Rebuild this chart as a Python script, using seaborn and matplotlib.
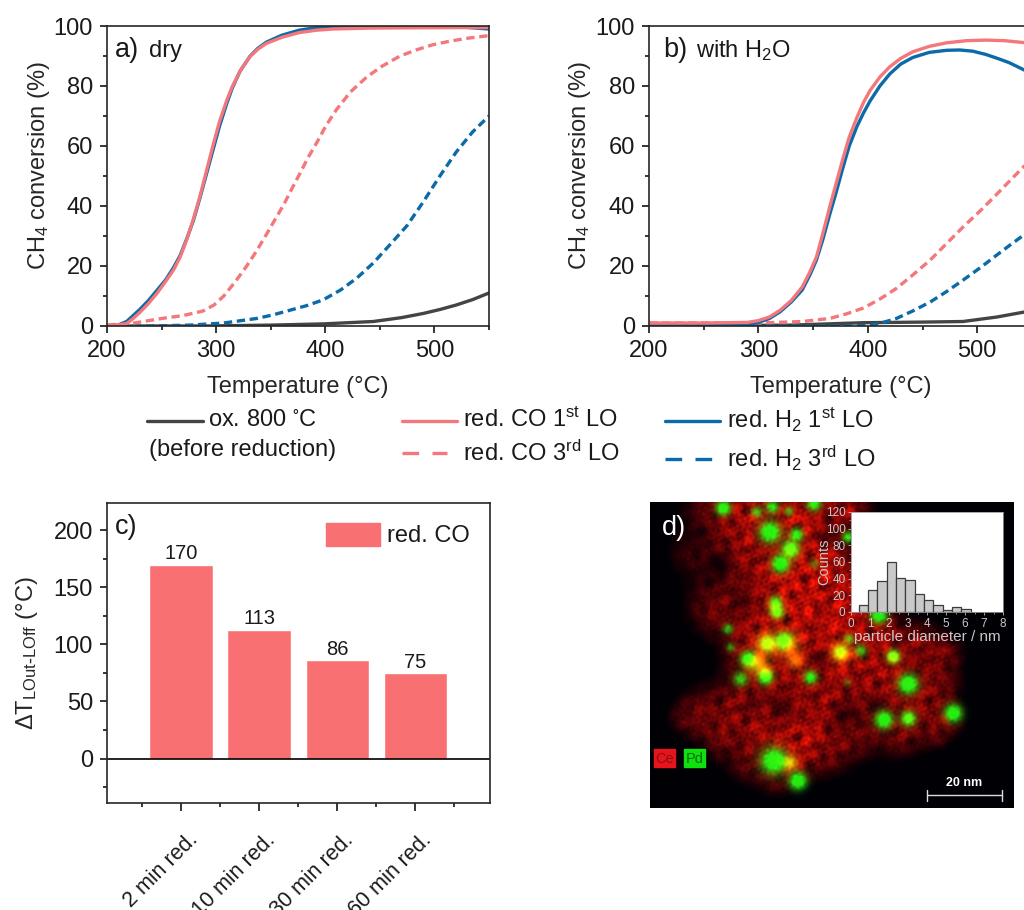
import numpy as np
import pandas as pd
import matplotlib
matplotlib.use("Agg")
import matplotlib.pyplot as plt
import seaborn as sns
from matplotlib.lines import Line2D
from matplotlib.patches import Patch, Rectangle
from matplotlib.ticker import MultipleLocator
from matplotlib.transforms import ScaledTranslation

# panel a) dry
a_co1_t = [200, 210, 218, 224, 230, 238, 246, 254, 261, 267, 273, 279, 285, 291, 297, 303, 310, 315, 322, 331, 338, 346, 360, 376, 392, 407, 440, 480, 550]
a_co1_y = [0.2, 0.4, 0.8, 2.5, 4.5, 7.5, 11, 15, 18.7, 23, 28.7, 35.5, 43, 51.5, 60, 68, 75.5, 80, 85, 89.8, 92.2, 94.2, 96.2, 97.8, 98.6, 99, 99.3, 99.4, 99.5]
a_h21_t = [200, 210, 218, 224, 230, 238, 246, 254, 261, 267, 273, 279, 285, 291, 297, 303, 310, 315, 322, 331, 338, 346, 360, 376, 392, 407, 440, 480, 520, 550]
a_h21_y = [0, 0.3, 1.5, 3.5, 5.5, 8.5, 12, 15.5, 19.5, 23.5, 29, 35, 42.5, 50.5, 58.5, 66.5, 74.5, 79.5, 85, 89.9, 92.5, 94.6, 96.9, 98.6, 99.5, 99.9, 100, 100, 99.8, 99]
a_co3_t = [200, 225, 250, 270, 288, 298, 307, 318, 328, 337, 346, 354, 362, 369, 377, 384, 392, 401, 410, 423, 438, 452, 468, 483, 498, 515, 530, 550]
a_co3_y = [0.3, 1, 2.5, 3.5, 5, 7, 10, 15, 20, 25, 30.5, 35.5, 40.5, 45.5, 51, 56, 61, 67, 72, 78, 83, 86.6, 89.9, 92, 93.7, 95, 95.9, 96.8]
a_h23_t = [200, 240, 276, 307, 337, 352, 368, 383, 398, 414, 429, 444, 459, 475, 490, 505, 520, 535, 550]
a_h23_y = [0, 0, 0.3, 1, 2.5, 3.7, 5.3, 6.8, 8.7, 12, 16, 21, 27, 33.5, 41.5, 50, 58, 64.7, 70]
a_ox_t = [200, 290, 350, 398, 444, 470, 490, 505, 520, 535, 550]
a_ox_y = [0, 0, 0.3, 0.7, 1.5, 2.8, 4.2, 5.5, 7, 8.8, 11]

# panel b) with H2O
b_co1_t = [200, 250, 290, 300, 310, 320, 330, 340, 347, 353, 359, 365, 371, 377, 383, 390, 396, 402, 411, 420, 430, 441, 456, 472, 490, 508, 525, 542, 550]
b_co1_y = [1, 1, 1.2, 1.8, 3, 5.3, 8.5, 13, 18, 23, 31, 39.5, 47.5, 55.5, 63, 69.5, 74.5, 78.5, 83, 86.4, 89.2, 91.4, 93.2, 94.4, 95.1, 95.3, 95.1, 94.5, 94]
b_h21_t = [200, 250, 290, 300, 310, 320, 330, 340, 347, 353, 359, 365, 371, 377, 383, 390, 396, 402, 411, 420, 430, 441, 456, 472, 484, 496, 508, 520, 529, 542, 550]
b_h21_y = [0, 0, 0.6, 1.2, 2.5, 4.8, 8, 12, 17, 22, 29, 37, 44.5, 52.5, 60, 66.5, 71, 75, 80, 84, 87.3, 89.5, 91.2, 91.9, 92, 91.6, 90.5, 89, 87.8, 85.5, 84]
b_co3_t = [200, 300, 340, 365, 380, 396, 411, 426, 441, 457, 472, 487, 503, 518, 530, 542, 550]
b_co3_y = [1, 1, 1.5, 2.5, 4, 6, 9, 12.5, 17, 22, 27.5, 33, 38.5, 44, 48.5, 53, 55]
b_h23_t = [200, 380, 402, 414, 426, 441, 457, 472, 487, 503, 518, 530, 542, 550]
b_h23_y = [0, 0, 0.2, 1.2, 2.5, 5, 8, 11.5, 15.3, 19.5, 23.7, 27, 30.2, 32.3]
b_ox_t = [200, 330, 396, 450, 487, 518, 542, 550]
b_ox_y = [0, 0.3, 1.1, 1.3, 1.5, 3, 4.6, 5]

# panel c)
c_labels = ["2 min red.", "10 min red.", "30 min red.", "60 min red."]
c_values = [170, 113, 86, 75]

# panel d) inset histogram
hist_edges = [0.4, 0.9, 1.39, 1.88, 2.37, 2.86, 3.35, 3.84, 4.33, 4.82, 5.31, 5.8, 6.29]
hist_counts = [8, 27, 37, 60, 41, 39, 22, 15, 8, 3, 6, 4]

# panel d) map: x, y, size, strength
ce_blobs = [(210, 40, 60, .45), (330, 60, 70, .8), (480, 70, 70, .9), (620, 40, 50, .7), (150, 170, 55, .3),
            (290, 180, 70, .55), (420, 240, 80, .8), (540, 210, 60, .85), (620, 270, 70, .7), (220, 340, 60, .5),
            (340, 370, 60, .75), (470, 340, 70, .85), (600, 390, 70, .85), (720, 420, 50, .7), (840, 450, 50, .6),
            (920, 470, 35, .45), (340, 480, 55, .8), (480, 480, 60, .85), (610, 500, 60, .8), (750, 530, 60, .7),
            (890, 560, 50, .55), (180, 640, 50, .45), (300, 620, 60, .6), (430, 600, 60, .7), (560, 620, 70, .6),
            (700, 620, 60, .55), (830, 640, 60, .6), (920, 670, 35, .5), (130, 670, 35, .3), (240, 720, 50, .5),
            (370, 710, 60, .65), (500, 720, 60, .75), (640, 720, 55, .5), (780, 720, 50, .45), (890, 720, 30, .3),
            (320, 810, 45, .35), (440, 790, 55, .75), (570, 790, 40, .3), (400, 870, 30, .2)]
ce_holes = [(235, 205, 30, .6), (310, 330, 28, .4), (530, 490, 22, .5), (420, 630, 32, .45), (620, 660, 32, .45),
            (710, 630, 22, .5), (325, 630, 18, .35), (160, 120, 35, .3), (560, 130, 18, .3)]
pd_blobs = [(248, 38, 14, 1), (348, 50, 11, .55), (395, 35, 13, .7), (445, 48, 9, .5), (520, 25, 14, .8),
            (388, 110, 20, 1), (468, 118, 13, .8), (450, 160, 17, .8), (420, 205, 17, 1), (522, 205, 10, .3),
            (622, 125, 11, .7), (405, 320, 13, .65), (410, 350, 13, .7), (262, 400, 10, .55), (270, 455, 9, .4),
            (380, 443, 14, .55), (430, 435, 16, .8), (322, 490, 15, .9), (375, 545, 14, .9), (510, 545, 13, .8),
            (300, 550, 14, .6), (600, 470, 13, .5), (625, 430, 10, .5), (660, 465, 12, .55), (758, 482, 13, .7),
            (803, 565, 19, 1), (730, 672, 17, 1), (803, 668, 15, .8), (938, 652, 17, 1), (400, 795, 25, 1),
            (472, 855, 17, 1), (715, 358, 16, 1), (620, 560, 8, .25)]
mix_blobs = [(380, 445, 22, .45), (440, 445, 24, .35), (600, 470, 18, .5), (350, 505, 20, .45), (375, 530, 14, .35),
             (405, 340, 14, .35), (758, 485, 12, .4), (450, 165, 14, .3), (805, 668, 10, .2), (450, 800, 14, .5),
             (465, 495, 16, .3)]
# mottling of the map: x wave, y wave, phase
grain_fine = [(.31, .07, .4), (-.12, .29, 1.7), (.23, -.24, 3.1), (.05, -.37, .9), (.41, .19, 2.2), (-.33, .26, 5.1),
              (.17, .39, 4.2), (.47, -.11, 1.1), (-.21, -.44, 2.9), (.27, .33, .6), (-.39, -.08, 3.7)]
grain_coarse = [(.07, .03, .3), (-.04, .09, 2.1), (.11, -.06, 4), (.05, .12, 1.2), (-.13, .05, 5.3), (.09, .1, 3.3),
                (.15, .02, .7), (-.03, -.16, 2.6)]

GREY = "#444444"
RED = "#F4777B"
BLUE = "#0B6AA8"
BAR = "#F87072"
W, H = 1024, 910
DASH = (0, (2.5, 1.4))
FS = 17

sns.set_theme(style="ticks")
plt.rcParams["font.family"] = ["Liberation Sans", "DejaVu Sans"]
plt.rcParams["mathtext.default"] = "regular"
plt.rcParams["axes.linewidth"] = 1.2
plt.rcParams["text.color"] = "#1a1a1a"


def px_axes(fig, left, right, top, bottom):
    return fig.add_axes([left / W, 1 - bottom / H, (right - left) / W, (bottom - top) / H])


def style_axes(ax):
    ax.tick_params(which="major", direction="out", length=5, width=1.1, labelsize=FS, pad=5, color="black", labelcolor="#1a1a1a")
    ax.tick_params(which="minor", direction="out", length=3, width=1.1, color="black")


def conversion_panel(ax, series):
    for t, y, col, ls in series:
        sns.lineplot(x=t, y=y, color=col, lw=2.4, linestyle=ls, errorbar=None, ax=ax)
    ax.set_xlim(200, 550)
    ax.set_ylim(0, 100)
    ax.xaxis.set_major_locator(MultipleLocator(100))
    ax.xaxis.set_minor_locator(MultipleLocator(50))
    ax.yaxis.set_major_locator(MultipleLocator(20))
    ax.yaxis.set_minor_locator(MultipleLocator(10))
    style_axes(ax)
    ax.set_xlabel("Temperature (°C)", fontsize=FS, labelpad=10)
    ax.set_ylabel("CH$_4$ conversion (%)", fontsize=FS)
    ax.yaxis.set_label_coords(-0.145, 0.535)


fig = plt.figure(figsize=(W / 100, H / 100), dpi=100)

ax_a = px_axes(fig, 107, 489, 26, 326)
conversion_panel(ax_a, [(a_ox_t, a_ox_y, GREY, "-"), (a_h23_t, a_h23_y, BLUE, DASH), (a_co3_t, a_co3_y, RED, DASH),
                        (a_h21_t, a_h21_y, BLUE, "-"), (a_co1_t, a_co1_y, RED, "-")])
fig.text(115 / W, 1 - 50 / H, "a)", fontsize=19.5, va="center")
fig.text(149 / W, 1 - 51 / H, "dry", fontsize=17, va="center")

ax_b = px_axes(fig, 649, 1032, 26, 326)
conversion_panel(ax_b, [(b_ox_t, b_ox_y, GREY, "-"), (b_h23_t, b_h23_y, BLUE, DASH), (b_co3_t, b_co3_y, RED, DASH),
                        (b_h21_t, b_h21_y, BLUE, "-"), (b_co1_t, b_co1_y, RED, "-")])
fig.text(663 / W, 1 - 50 / H, "b)", fontsize=19.5, va="center")
fig.text(696 / W, 1 - 51 / H, "with H$_2$O", fontsize=17, va="center")

# shared legend below a) and b), placed by hand like the original
key_rows = [(147, 203, 421, GREY, "-", "ox. 800 $^{\\circ}$C", 208, 420),
            (402, 457, 421, RED, "-", "red. CO 1$^{st}$ LO", 463, 420),
            (402, 447, 453, RED, (0, (5, 4)), "red. CO 3$^{rd}$ LO", 463, 453),
            (665, 720, 421, BLUE, "-", "red. H$_2$ 1$^{st}$ LO", 727, 420),
            (665, 712, 459, BLUE, (0, (5, 4)), "red. H$_2$ 3$^{rd}$ LO", 727, 458)]
for x0, x1, yl, col, ls, txt, xt, yt in key_rows:
    fig.add_artist(Line2D([x0 / W, x1 / W], [1 - yl / H, 1 - yl / H], color=col, lw=2.4, linestyle=ls))
    fig.text(xt / W, 1 - yt / H, txt, fontsize=FS, va="center")
fig.text(149 / W, 1 - 450 / H, "(before reduction)", fontsize=FS, va="center")

# bars
ax_c = px_axes(fig, 107, 490, 503, 803)
sns.barplot(x=c_labels, y=c_values, color=BAR, saturation=1, width=0.81, ax=ax_c)
ax_c.set_xlim(-0.946, 3.955)
ax_c.set_ylim(-39, 224)
ax_c.axhline(0, color="black", lw=1.2)
ax_c.bar_label(ax_c.containers[0], fontsize=14.5, padding=1)
ax_c.yaxis.set_major_locator(MultipleLocator(50))
ax_c.yaxis.set_minor_locator(MultipleLocator(25))
ax_c.set_xticks([0.5 + i - 1 for i in range(5)], minor=True)
style_axes(ax_c)
ax_c.tick_params(axis="x", which="major", length=6, pad=13)
ax_c.set_xticks(range(4))
ax_c.set_xticklabels(c_labels, rotation=45, ha="right", rotation_mode="anchor", fontsize=15.5)
shift = ScaledTranslation(6 / 100, 0, fig.dpi_scale_trans)
for lab in ax_c.get_xticklabels():
    lab.set_transform(lab.get_transform() + shift)
ax_c.set_ylabel("$\\Delta$T$_{LOut\\text{-}LOff}$ (°C)", fontsize=FS)
ax_c.yaxis.set_label_coords(-0.175, 0.5)
ax_c.legend(handles=[Patch(color=BAR, label="red. CO")], loc="upper right", frameon=False, fontsize=FS,
            handlelength=2.29, handleheight=1.1, handletextpad=0.3, borderaxespad=0.5, borderpad=0.35)
fig.text(115 / W, 1 - 527 / H, "c)", fontsize=19.5, va="center")

# elemental map, built from the blob lists
ax_d = px_axes(fig, 650, 1014, 502, 808)
xs = np.arange(30, 1122, 4.0)
ys = np.arange(22, 938, 4.0)
gx, gy = np.meshgrid(xs, ys)


def bump(x, y, s):
    return np.exp(-((gx - x) ** 2 + (gy - y) ** 2) / (2 * s ** 2))


def union(items):
    rest = np.ones_like(gx)
    for x, y, s, amp in items:
        rest = rest * (1 - amp * bump(x, y, s))
    return 1 - rest


fine = sum(np.sin(fx * gx + fy * gy + ph) for fx, fy, ph in grain_fine) / 3.3
coarse = sum(np.sin(fx * gx + fy * gy + ph) for fx, fy, ph in grain_coarse) / 2.8
ce = union(ce_blobs)
for x, y, s, amp in ce_holes:
    ce = ce * (1 - amp * bump(x, y, s))
ce = np.clip((ce - 0.12) / 0.88, 0, 1) * np.clip(0.76 + 0.2 * coarse + 0.12 * fine, 0.2, 1.15)
pdm = np.clip(1.6 * union(pd_blobs) * (0.92 + 0.08 * fine), 0, 1)
mix = union(mix_blobs)
img = np.zeros(gx.shape + (3,))
img[..., 0] = np.clip(1.05 * ce * (1 - 0.9 * pdm) + 1.1 * mix + 0.12 * pdm, 0, 1)
img[..., 1] = np.clip(pdm * 0.92 + 1.3 * mix + 0.1 * ce ** 2, 0, 1)
img[..., 2] = 0.02 + 0.05 * pdm
ax_d.imshow(img, extent=(30, 1122, 938, 22), aspect="auto", interpolation="bilinear")
ax_d.set_xticks([])
ax_d.set_yticks([])
for sp in ax_d.spines.values():
    sp.set_visible(False)
ax_d.text(66, 100, "d)", color="white", fontsize=19.5, va="center")
ax_d.add_patch(Rectangle((43, 760), 63, 56, color="#E8141C"))
ax_d.add_patch(Rectangle((132, 760), 63, 56, color="#10E010"))
ax_d.text(74, 790, "Ce", color="#8a1010", fontsize=10.5, ha="center", va="center")
ax_d.text(163, 790, "Pd", color="#0a6a0a", fontsize=10.5, ha="center", va="center")
ax_d.plot([860, 1085], [900, 900], color="#dddddd", lw=1)
ax_d.plot([860, 860], [885, 917], color="#dddddd", lw=1)
ax_d.plot([1085, 1085], [885, 917], color="#dddddd", lw=1)
ax_d.text(972, 862, "20 nm", color="white", fontsize=9, fontweight="bold", ha="center", va="center")
ax_d.set_xlim(30, 1122)
ax_d.set_ylim(938, 22)

# size histogram on top of the map
ax_in = px_axes(fig, 851, 1003, 512, 612)
ax_in.set_facecolor("white")
centers = [(hist_edges[i] + hist_edges[i + 1]) / 2 for i in range(len(hist_counts))]
sns.histplot(x=centers, weights=hist_counts, bins=hist_edges, color="#C9C9C9", edgecolor="#3c3c3c", linewidth=0.9, alpha=1, ax=ax_in)
ax_in.set_xlim(0, 8)
ax_in.set_ylim(0, 120)
ax_in.xaxis.set_major_locator(MultipleLocator(1))
ax_in.xaxis.set_minor_locator(MultipleLocator(0.5))
ax_in.yaxis.set_major_locator(MultipleLocator(20))
ax_in.yaxis.set_minor_locator(MultipleLocator(10))
ax_in.tick_params(which="major", direction="out", length=2.5, width=0.6, labelsize=8.5, pad=1.5, color="#bbbbbb", labelcolor="#c8c8c8")
ax_in.tick_params(which="minor", direction="out", length=1.5, width=0.5, color="#bbbbbb")
for sp in ax_in.spines.values():
    sp.set_color("#999999")
    sp.set_linewidth(0.6)
ax_in.set_xlabel("particle diameter / nm", fontsize=11, color="#c8c8c8", labelpad=0)
ax_in.set_ylabel("Counts", fontsize=10.5, color="#c8c8c8", labelpad=-4)

fig.savefig("out.png", dpi=100)
